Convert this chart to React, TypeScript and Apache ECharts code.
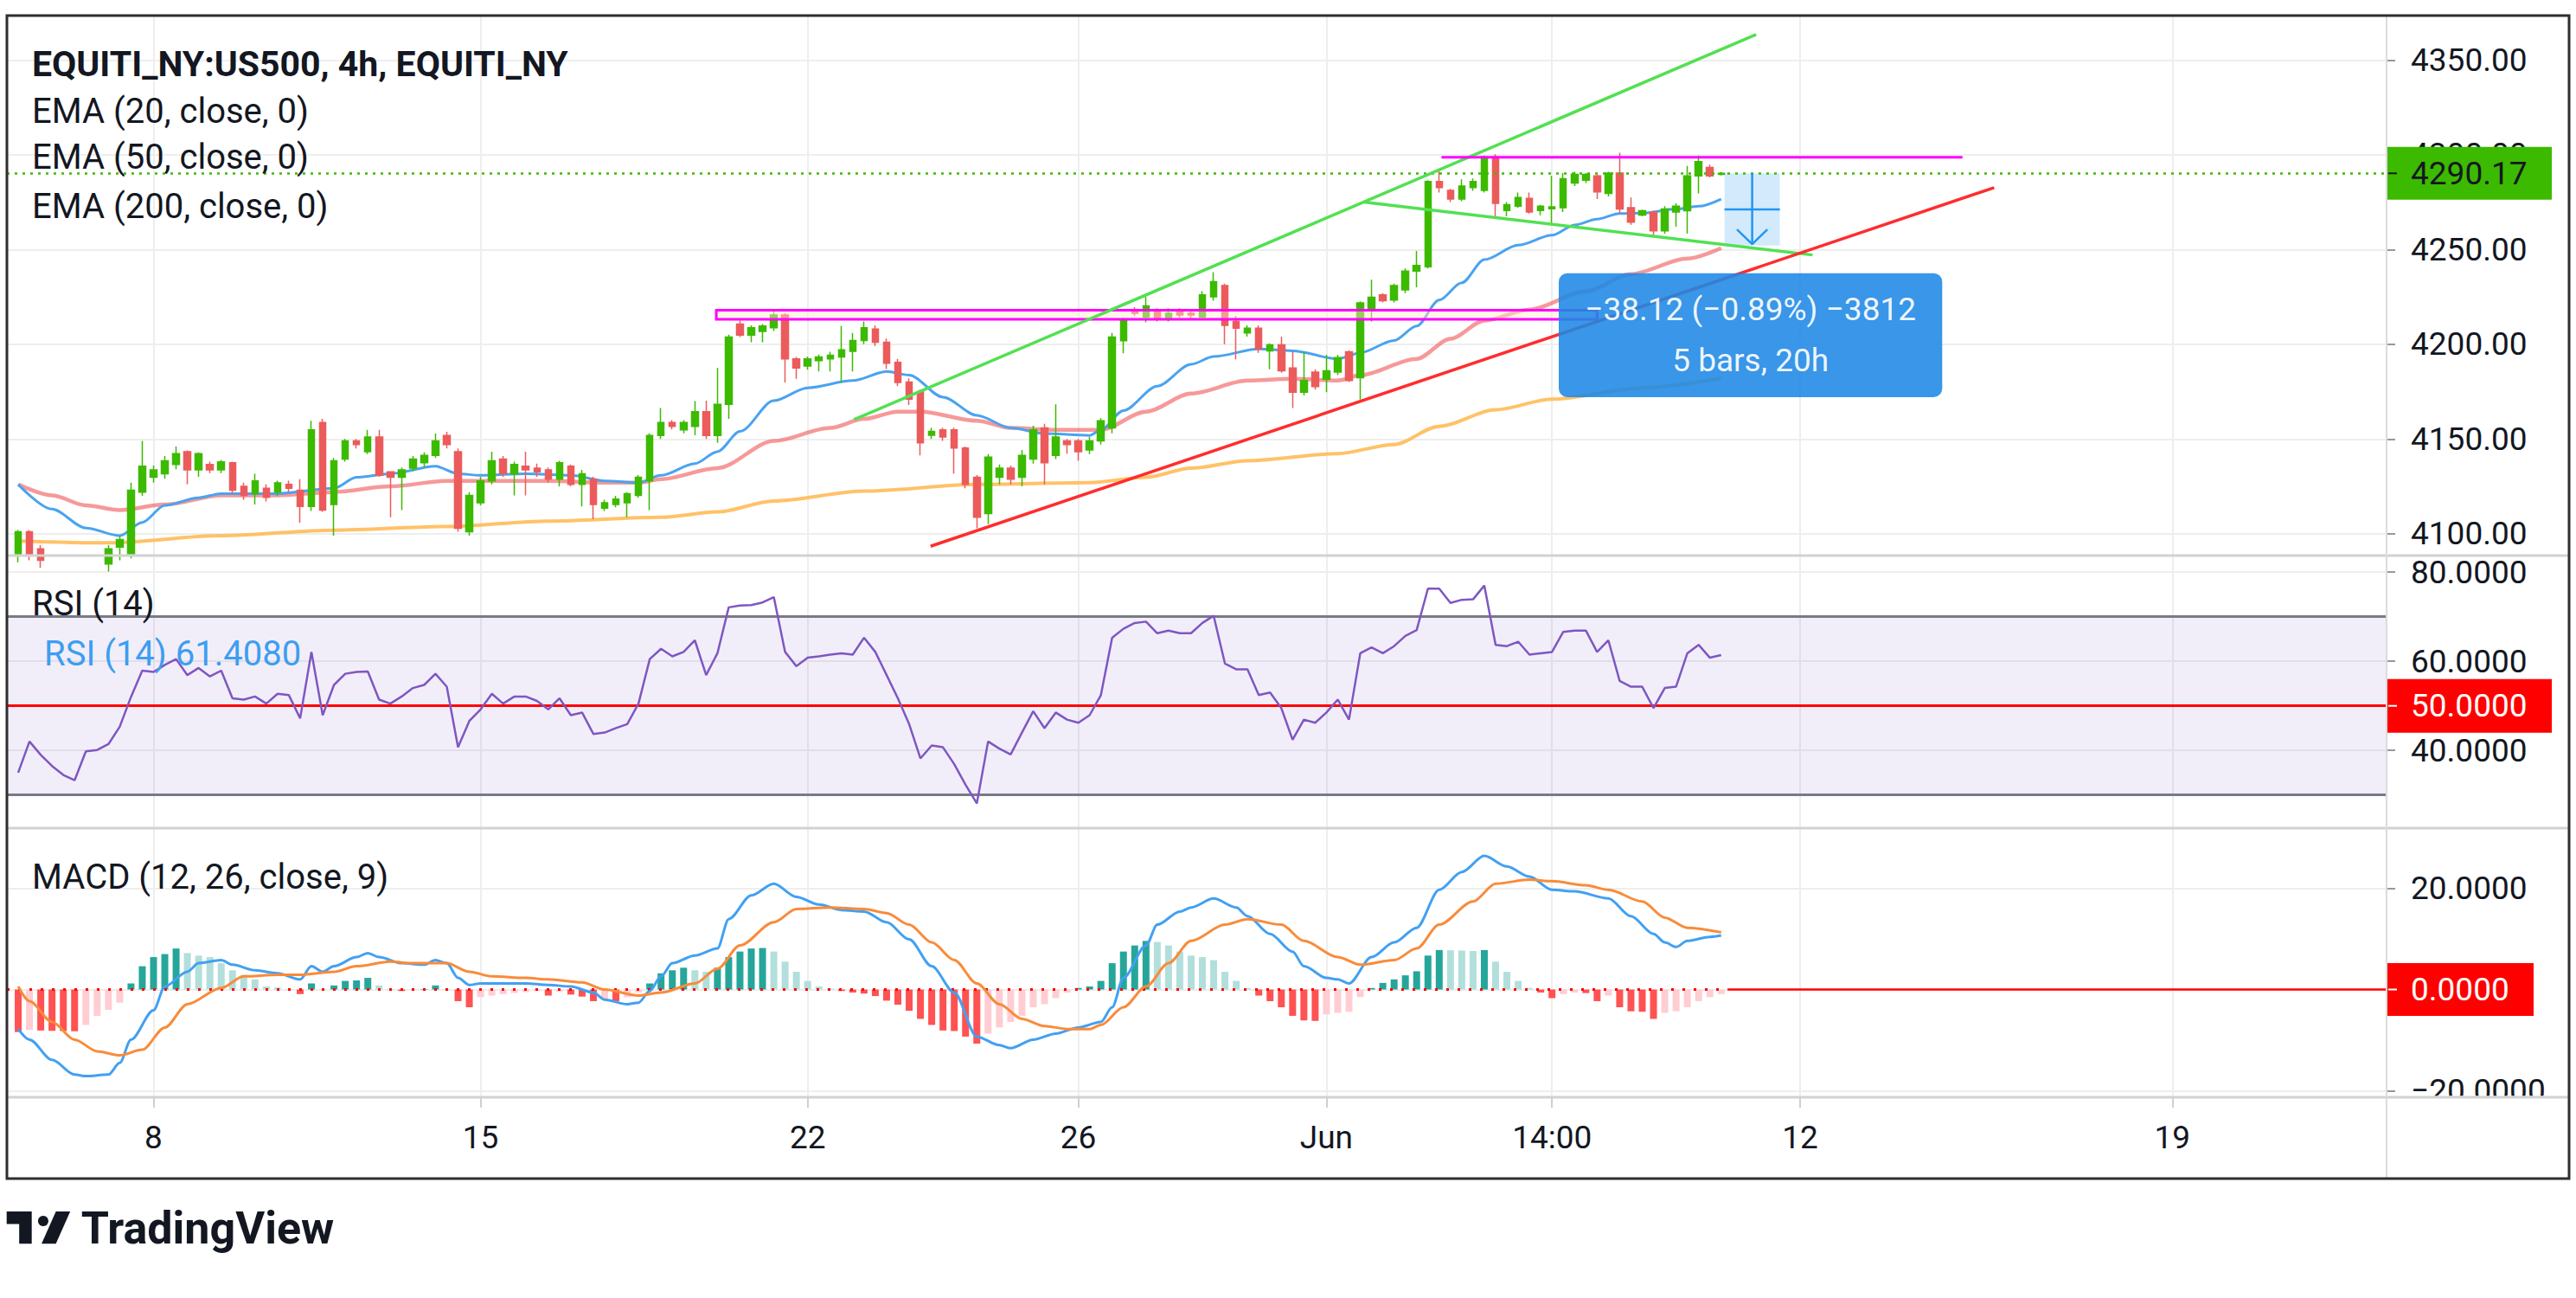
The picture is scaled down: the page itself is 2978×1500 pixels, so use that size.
import React, { useEffect, useRef } from 'react';
import * as echarts from 'echarts';

// ---------- axes ----------
const TICK_POS = [12, 41, 70, 94, 116, 136, 158, 191];
const TICK_LABELS = ['8', '15', '22', '26', 'Jun', '14:00', '12', '19'];
const X_RANGE = [-1, 210];
const PRICE_RANGE = [4088.5, 4373.4];
const PRICE_TICKS = [4100, 4150, 4200, 4250, 4300, 4350];
const RSI_RANGE = [22.56, 83.73];
const RSI_TICKS = [40, 60, 80];
const RSI_BAND = [30, 70];
const RSI_MID = 50;
const MACD_RANGE = [-21.28, 31.88];
const MACD_TICKS = [-20, 0, 20];
const MACD_LABEL_TICKS = [-20, 20];

// ---------- texts ----------
const TITLE = 'EQUITI_NY:US500, 4h, EQUITI_NY';
const EMA_LEGENDS = ['EMA (20, close, 0)', 'EMA (50, close, 0)', 'EMA (200, close, 0)'];
const RSI_TITLE = 'RSI (14)';
const MACD_TITLE = 'MACD (12, 26, close, 9)';
const BRAND = 'TradingView';

// ---------- candles (bar index 0..151) ----------
const OPEN = [
  4089.4, 4101, 4092, 4086, 4080, 4077, 4082, 4079, 4084, 4093,
  4089.4, 4122, 4129.8, 4131.7, 4136.5, 4143.3, 4133.7, 4136.5, 4133.7, 4137.5,
  4125, 4121.2, 4124, 4122, 4126, 4123, 4114.4, 4158.7, 4115.4, 4139.4,
  4149, 4143.3, 4151, 4132.7, 4129.8, 4134.6, 4137.5, 4141.3, 4151.9, 4143.3,
  4101, 4116.3, 4127.9, 4139.4, 4131.7, 4135.6, 4134.6, 4133.7, 4128.8, 4135.6,
  4126, 4128.8, 4113.5, 4115.4, 4116.3, 4120.2, 4127.9, 4151.9, 4158.7, 4154.8,
  4156.7, 4164.4, 4151.9, 4168.3, 4210.6, 4204.8, 4206.7, 4208.7, 4215.4, 4192.3,
  4188.5, 4191.3, 4192.3, 4193.3, 4196.2, 4202, 4208, 4201, 4190.4, 4180,
  4175, 4152, 4154.8, 4154.8, 4145.2, 4129.8, 4110.6, 4129.8, 4134.6, 4129.8,
  4139.4, 4155.8, 4141.3, 4149, 4149, 4144.2, 4149, 4155.8, 4201.9, 4218.3,
  4214.4, 4218.3, 4213.5, 4218, 4216.3, 4214.4, 4225, 4231, 4212, 4206,
  4208.5, 4196.5, 4199.7, 4187.5, 4174.7, 4185.3, 4181.5, 4185.3, 4196, 4182.3,
  4218.8, 4226, 4223.3, 4228.7, 4238.6, 4240.9, 4285.8, 4281.2, 4276.6, 4282.7,
  4281.2, 4298.8, 4270.6, 4272.8, 4276.9, 4270.6, 4271.5, 4272, 4285, 4286.5,
  4288.8, 4279.6, 4290.3, 4272, 4268.2, 4269.7, 4259.8, 4269.8, 4270.5, 4288.8,
  4293.3, 4289.6,
];
const CLOSE = [
  4101, 4089.4, 4086, 4080, 4077, 4082, 4079, 4084, 4092, 4097,
  4123, 4135.6, 4133.7, 4138.5, 4142.3, 4133.7, 4142.3, 4133.7, 4137.9, 4123,
  4120.2, 4127.9, 4119.2, 4126.9, 4124, 4114.4, 4154.8, 4112.5, 4138.5, 4149,
  4147.1, 4151, 4130.8, 4129.8, 4133.7, 4139.4, 4141.3, 4149, 4147.1, 4102.9,
  4120.2, 4127.9, 4138.5, 4131.7, 4136.5, 4133.7, 4132.7, 4128.8, 4137.5, 4126,
  4131.7, 4115.4, 4116.3, 4118.3, 4121.2, 4129.8, 4151.9, 4158.7, 4156.7, 4158.7,
  4164.4, 4151.9, 4168.3, 4203.8, 4204.8, 4208.7, 4209.6, 4215.4, 4192.3, 4187.5,
  4192.3, 4193.3, 4194.2, 4197.1, 4202, 4208.7, 4201, 4190, 4179.8, 4171,
  4148, 4154, 4151, 4145.2, 4126, 4108.7, 4140.4, 4134.6, 4128.8, 4141.3,
  4154.8, 4137.5, 4151, 4147.1, 4143.3, 4149, 4159.6, 4203.8, 4212.5, 4216.3,
  4220.2, 4213.5, 4216.3, 4215.4, 4215.4, 4226, 4233, 4210, 4208.5, 4208.5,
  4197.5, 4199.7, 4186, 4174.7, 4180.8, 4177.7, 4186, 4192.9, 4180.8, 4221.8,
  4224.8, 4223, 4230.9, 4238.6, 4241.6, 4285.8, 4282.7, 4276.6, 4283.5, 4285.8,
  4298.7, 4274.3, 4273.6, 4277.4, 4269.8, 4272.8, 4272.5, 4287.3, 4289.6, 4289.6,
  4280.4, 4290.3, 4271.3, 4264.4, 4270.5, 4259.8, 4271.3, 4272.8, 4288.8, 4296.4,
  4288.8, 4290.17,
];
const LOW = [
  4085, 4086, 4082, 4076, 4072, 4074, 4075, 4076, 4080, 4086,
  4087, 4120, 4127, 4129, 4134, 4126, 4130, 4132, 4132, 4121,
  4118, 4115.4, 4117, 4120, 4122, 4105.8, 4112, 4111.5, 4099, 4138,
  4145, 4142, 4130, 4108.7, 4112.5, 4133, 4135, 4140, 4145, 4101,
  4099, 4115, 4126, 4130, 4120.2, 4120.2, 4130, 4127, 4125, 4125,
  4114.4, 4107.7, 4112, 4114, 4108.7, 4119, 4112.5, 4150, 4155, 4153,
  4152, 4150, 4148, 4160.6, 4203.8, 4201, 4201, 4207, 4179.8, 4181.7,
  4186.5, 4185.6, 4185.6, 4179.8, 4185.6, 4200, 4199, 4187, 4177.9, 4168,
  4141.3, 4150, 4149, 4131.7, 4124, 4102.9, 4105, 4126, 4126, 4125,
  4137, 4126, 4139.4, 4142.3, 4138.5, 4142, 4147, 4153, 4195.2, 4215,
  4211.5, 4212, 4212, 4214, 4213, 4213, 4223, 4200, 4192, 4204,
  4195.5, 4186.8, 4185, 4166.3, 4173, 4176, 4174.7, 4183.7, 4180, 4170.8,
  4212, 4222, 4222, 4227, 4230, 4240, 4280, 4275, 4275.5, 4281,
  4280, 4267.5, 4267.5, 4272, 4269, 4268, 4263.7, 4269.8, 4283.5, 4285,
  4276.6, 4278, 4269, 4263, 4267.5, 4257.5, 4258.3, 4262, 4258.3, 4279.6,
  4288, 4289,
];
const HIGH = [
  4102, 4102, 4094, 4088, 4084, 4086, 4086, 4087, 4094, 4099,
  4127, 4149, 4136, 4141, 4146, 4144, 4143, 4138, 4139, 4138,
  4127, 4131.7, 4126, 4128, 4128, 4128.8, 4159.6, 4160.6, 4140, 4150,
  4150, 4154.8, 4154.8, 4133, 4135, 4141, 4143, 4152.9, 4153.8, 4145,
  4122, 4130, 4143.3, 4141, 4138, 4143.3, 4137, 4135, 4138.5, 4136.5,
  4133.7, 4130, 4118, 4120, 4122, 4131, 4153, 4166.3, 4160, 4160,
  4170, 4170.2, 4187.5, 4205, 4212.5, 4210, 4210.6, 4217.3, 4216.3, 4193.3,
  4193.5, 4194.5, 4196, 4209.6, 4206, 4212, 4210, 4203, 4192.3, 4182,
  4176, 4156, 4156, 4156, 4146, 4131, 4142, 4136.5, 4136, 4144.2,
  4157, 4158, 4168.3, 4150, 4150, 4151, 4161, 4206, 4214, 4219.5,
  4225, 4219, 4219, 4219, 4218, 4228, 4238, 4232, 4215, 4210,
  4210, 4200.5, 4204, 4196, 4196, 4186.8, 4194.4, 4194.4, 4196.7, 4222.6,
  4234, 4227, 4232, 4240, 4249.2, 4286.5, 4291.8, 4282, 4287, 4287.5,
  4299.5, 4300.2, 4275, 4280, 4280, 4273.5, 4288.8, 4290.3, 4291, 4290.3,
  4289.6, 4291, 4301, 4277.4, 4271, 4270.5, 4272.8, 4274.3, 4294.1, 4299.5,
  4294.8, 4290.8,
];

// ---------- moving averages ([bar, value]) ----------
const EMA20 = [
  [0, 4126], [3, 4113], [6, 4103], [9, 4099], [11, 4106], [13, 4115], [16, 4119], [18, 4121.2],
  [23, 4121.2], [28, 4124], [30, 4129.8], [33, 4131.7], [37, 4135.6], [39, 4131.7], [41, 4130.8],
  [45, 4131.7], [49, 4130.8], [52, 4127.9], [55, 4127], [57, 4130.8], [60, 4137], [62, 4143.3],
  [64, 4154], [67, 4170.2], [70, 4177], [74, 4180.8], [77, 4185.6], [79, 4183.7], [82, 4172.1],
  [85, 4162.5], [88, 4155.8], [91, 4152.9], [95, 4151.9], [96, 4154.8], [98, 4165], [101, 4177.9],
  [104, 4189.4], [106, 4193.5], [110, 4197.5], [113, 4196.5], [117, 4192.3], [119, 4195.5],
  [122, 4202], [124, 4209.6], [126, 4223.3], [128, 4232.4], [130, 4244.6], [133, 4252.3],
  [136, 4257.5], [138, 4262.9], [140, 4266], [142, 4269], [144, 4269.2], [147, 4271.3],
  [149, 4272.8], [151, 4276.6],
];
const EMA50 = [
  [0, 4126], [3, 4120.2], [6, 4115], [9, 4112.5], [13, 4115.4], [18, 4120.2], [23, 4120.2],
  [28, 4122], [33, 4125], [38, 4127.9], [42, 4127.9], [47, 4127.9], [52, 4127], [55, 4127],
  [57, 4128.8], [62, 4134.6], [67, 4149], [72, 4155.8], [75, 4160.6], [78, 4164.4], [80, 4164.4],
  [85, 4159.6], [88, 4155.8], [92, 4154.8], [96, 4154.8], [100, 4164.4], [104, 4174], [109, 4180.8],
  [113, 4181.7], [117, 4180.8], [119, 4183.7], [124, 4192.3], [127, 4202.9], [130, 4212.5],
  [134, 4218.3], [139, 4227.9], [143, 4237], [148, 4245.2], [151, 4250.7],
];
const EMA200 = [
  [0, 4096.2], [8, 4095.2], [18, 4099], [28, 4101.9], [38, 4103.8], [47, 4106.7], [57, 4108.7],
  [62, 4111.5], [67, 4117.3], [75, 4122.5], [85, 4126], [95, 4127], [100, 4129.8], [104, 4134.6],
  [109, 4138.5], [117, 4142.3], [122, 4147.1], [126, 4156.7], [131, 4165.4], [136, 4171],
  [144, 4177], [151, 4182],
];

// ---------- RSI (one value per bar) ----------
const RSI = [
  35, 42, 39, 36.5, 34.5, 33.3, 39.8, 40.1, 41.4, 45.3,
  52, 57.9, 57.6, 59.2, 60.5, 56.9, 58.5, 56.6, 57.9, 51.7,
  51.4, 52.1, 50.5, 52.7, 52.4, 47.2, 62.1, 47.9, 54.7, 57.2,
  57.6, 57.7, 51.4, 50.5, 52.1, 54, 54.7, 57.2, 54.3, 40.7,
  46.6, 49.2, 52.7, 50.5, 52.1, 52.1, 51.1, 49.2, 51.7, 47.9,
  48.5, 43.7, 44, 45, 45.9, 50.5, 60.5, 62.8, 61.1, 62.1,
  64.7, 56.9, 61.8, 72.1, 72.5, 72.6, 73.2, 74.4, 62.1, 58.9,
  60.8, 61.1, 61.5, 61.8, 61.5, 65.3, 62.1, 56.9, 51.7, 45.9,
  38.2, 41.1, 40.7, 36.9, 32.3, 28.1, 42, 40.4, 39.1, 44,
  48.8, 45, 48.5, 46.9, 46.2, 47.9, 52.4, 65.3, 67.3, 68.6,
  68.9, 66.3, 66.9, 66.3, 66.3, 68.6, 70.2, 59.5, 58.2, 58.2,
  52.4, 53, 49.5, 42.4, 46.9, 46.2, 48.5, 51.4, 46.9, 61.8,
  63.1, 61.8, 63.4, 65.7, 67, 76.3, 76.3, 73.1, 73.8, 73.9,
  77, 63.7, 63.4, 64.4, 61.5, 61.8, 62.1, 66.6, 66.9, 66.9,
  62.1, 64.7, 55.6, 54.3, 54.3, 49.5, 54, 54.3, 61.8, 63.7,
  60.8, 61.408,
];

// ---------- MACD ----------
const MACD = [
  [0, -7.8], [1, -9.9], [3, -13.9], [5, -16.8], [6, -17.1], [8, -16.8], [9, -14.5], [10, -9.9],
  [12, -4.1], [13, 0.6], [15, 3.5], [16, 5.2], [18, 5.8], [19, 4.9], [21, 3.8], [23, 3.2], [25, 2],
  [26, 4.6], [27, 3.5], [28, 4.6], [30, 6.4], [31, 7.2], [32, 6.4], [34, 5.2], [36, 4.9], [37, 5.8],
  [38, 5.2], [39, 2.3], [40, 0.9], [41, 1.2], [45, 1.2], [47, 0.9], [49, 0.6], [51, -0.6], [52, -2],
  [54, -2.9], [55, -2.6], [56, -0.3], [57, 2.6], [58, 5.2], [60, 6.7], [62, 8.1], [63, 13.9],
  [65, 18.6], [67, 20.9], [69, 18.3], [71, 16.8], [73, 15.7], [75, 15.4], [77, 13.3], [79, 9.9],
  [81, 4.6], [83, -0.6], [85, -9.3], [87, -11], [88, -11.6], [90, -9.9], [92, -8.7], [94, -7.5],
  [96, -6.4], [97, -3.5], [98, 2.3], [100, 8.7], [101, 12.8], [103, 15.4], [104, 16.2], [106, 18],
  [108, 16.2], [109, 14.5], [111, 11], [113, 7.5], [114, 4.6], [116, 2.3], [117, 2], [118, 1.2],
  [120, 6.4], [122, 9.3], [124, 12.2], [126, 19.7], [128, 23.2], [130, 26.4], [132, 24.3],
  [134, 22.3], [136, 19.7], [138, 19.4], [141, 18], [143, 14.5], [145, 11], [146, 9.3], [147, 8.4],
  [148, 9.6], [150, 10.4], [151, 10.7],
];
const SIGNAL = [
  [0, 0.6], [1, -2.3], [3, -6.4], [5, -9.9], [7, -12.2], [9, -13], [11, -11.9], [13, -7.5],
  [15, -2.9], [18, 0.3], [20, 2.6], [23, 2.9], [25, 2.9], [28, 3.5], [30, 4.6], [33, 5.5],
  [35, 5.2], [38, 5.2], [40, 3.5], [42, 2.6], [45, 2.3], [47, 2], [50, 1.4], [52, 0], [55, -1.2],
  [57, -0.6], [60, 1.2], [62, 4.1], [64, 8.7], [67, 13.3], [69, 15.9], [72, 16.2], [75, 15.9],
  [77, 15.1], [79, 12.8], [81, 9.3], [83, 5.8], [85, 1.2], [87, -2.9], [89, -5.8], [91, -7.2],
  [93, -7.8], [95, -7.8], [96, -7], [98, -3.5], [100, 0.6], [102, 5.2], [104, 9.6], [107, 12.8],
  [109, 13.9], [112, 12.8], [114, 9.6], [117, 6.4], [119, 4.9], [122, 5.8], [124, 8.1], [126, 12.8],
  [129, 17.4], [131, 20.9], [134, 21.7], [136, 21.4], [139, 20.6], [141, 19.7], [144, 17.4],
  [146, 14.2], [148, 12.2], [151, 11.3],
];
const HIST = [
  -8.4, -8.0, -8.1, -8.15, -8.2, -8.25, -7.0, -5.2, -4.0, -2.6,
  1.2, 4.6, 6.4, 7.0, 8.1, 7.2, 6.7, 6.4, 5.2, 3.8,
  2.9, 2.0, 0.6, 0.4, 0.1, -0.9, 1.2, 0.1, 0.8, 1.7,
  1.8, 2.3, 0.8, 0.1, -0.3, -0.1, 0.1, 0.8, 0.1, -2.3,
  -3.5, -1.5, -1.2, -0.9, -0.7, -0.5, -0.3, -1.2, -0.4, -1.0,
  -1.4, -2.3, -2.0, -2.3, -1.5, -0.6, 1.2, 3.2, 3.8, 4.3,
  3.8, 3.5, 4.3, 6.4, 7.5, 8.1, 8.2, 7.5, 5.5, 3.5,
  1.7, 0.6, 0.2, -0.3, -0.6, -0.8, -1.3, -2.2, -3.0, -4.2,
  -5.8, -7.0, -8.1, -8.2, -9.3, -10.7, -8.7, -7.5, -6.4, -5.2,
  -3.5, -2.9, -1.7, -0.6, 0.3, 0.6, 1.7, 5.2, 7.5, 8.7,
  9.6, 9.4, 8.7, 7.5, 6.7, 6.4, 5.8, 3.5, 1.7, 0.3,
  -1.2, -2.3, -3.5, -5.2, -6.1, -6.2, -4.9, -4.6, -4.4, -1.5,
  0.3, 1.3, 2.0, 2.8, 3.6, 6.7, 7.8, 7.75, 7.7, 7.6,
  7.8, 5.5, 3.5, 1.7, 0.3, -0.6, -1.7, -0.9, -0.6, -0.7,
  -2.3, -1.2, -3.5, -4.3, -4.4, -5.8, -4.6, -4.3, -3.5, -2.3,
  -1.5, -0.9,
];

// ---------- drawings ([bar, price]) ----------
const TREND_GREEN_UP = [[74.1, 4160.2], [154.1, 4363.4]];
const TREND_GREEN_DOWN = [[119.3, 4275], [159.1, 4247.1]];
const TREND_RED = [[80.9, 4093.4], [175.2, 4282.6]];
const RESIST_TOP = [[126.2, 4298.6], [172.4, 4298.6]];
const ZONE = [[61.9, 4217.9], [140, 4213.1]];
const MEASURE = { x1: 151.3, x2: 156.2, bars: 5, hours: 20, delta: -38.12 };
const MEASURE_TIP = { x1: 136.6, x2: 170.6, top: 4237.5, bottom: 4172.1 };

// ---------- style ----------
const FONT = 'Roboto';
const TEXT = '#131722';
const UP = '#3cba00';
const DOWN = '#ec5b5b';
const GRID_C = '#eeeeee';
const PANES = [
  { top: 18, bottom: 642 },
  { top: 642, bottom: 957 },
  { top: 957, bottom: 1268 },
];
const LEFT = 8;
const AXIS_X = 2759;
const FRAME = { x: 8, y: 18, right: 2970, bottom: 1362 };

const LAST_BAR = CLOSE.length - 1;
const LAST_PRICE = CLOSE[LAST_BAR];

function signed(v: number, d: number) {
  const s = Math.abs(v).toFixed(d);
  return v < 0 ? '\u2212' + s : s;
}

function histColor(i: number) {
  const h = HIST[i];
  const prev = i > 0 ? HIST[i - 1] : 0;
  if (h >= 0) return h >= prev ? '#26a69a' : '#b2dfdb';
  return h < prev ? '#ff5252' : '#ffcdd2';
}

function buildOption(): any {
  const measFrom = LAST_PRICE;
  const measTo = LAST_PRICE + MEASURE.delta;
  const measMid = (measFrom + measTo) / 2;
  const measCx = (MEASURE.x1 + MEASURE.x2) / 2;

  const xAxis = [0, 1, 2].map((g) => ({
    type: 'value',
    gridIndex: g,
    min: X_RANGE[0],
    max: X_RANGE[1],
    axisLine: { show: false, onZero: false },
    splitLine: { show: false },
    axisTick:
      g === 2
        ? { show: true, customValues: TICK_POS, length: 12, lineStyle: { color: '#cfcfcf', width: 2 } }
        : { show: false },
    axisLabel:
      g === 2
        ? {
            show: true,
            customValues: TICK_POS,
            formatter: (v: any) => {
              const k = TICK_POS.indexOf(Number(v));
              return k >= 0 ? TICK_LABELS[k] : '';
            },
            fontSize: 37,
            fontFamily: FONT,
            color: TEXT,
            margin: 28,
          }
        : { show: false },
  }));

  const yAxisOf = (g: number, range: number[], ticks: number[], labels: number[], interval: number, fmt: (v: number) => string) => ({
    type: 'value',
    gridIndex: g,
    position: 'right',
    min: range[0],
    max: range[1],
    minInterval: interval,
    maxInterval: interval,
    axisLine: { show: false, onZero: false },
    axisTick: { show: true, customValues: ticks, length: 10, lineStyle: { color: '#9598a1', width: 2 } },
    axisLabel: {
      customValues: labels,
      showMinLabel: true,
      showMaxLabel: true,
      formatter: (v: any) => (labels.indexOf(Number(v)) >= 0 ? fmt(Number(v)) : ''),
      fontSize: 37,
      fontFamily: FONT,
      color: TEXT,
      margin: 28,
      align: 'left',
    },
    splitLine: { show: true, lineStyle: { color: GRID_C, width: 2 } },
  });

  const yAxis = [
    yAxisOf(0, PRICE_RANGE, PRICE_TICKS, PRICE_TICKS, 50, (v) => v.toFixed(2)),
    yAxisOf(1, RSI_RANGE, RSI_TICKS, RSI_TICKS, 20, (v) => v.toFixed(4)),
    yAxisOf(2, MACD_RANGE, MACD_TICKS, MACD_LABEL_TICKS, 20, (v) => signed(v, 4)),
  ];

  const noSym = ['none', 'none'];
  const series: any[] = [];

  // vertical grid lines in each pane
  [0, 1, 2].forEach((g) =>
    series.push({
      type: 'line',
      xAxisIndex: g,
      yAxisIndex: g,
      data: [],
      silent: true,
      z: 0,
      markLine: {
        silent: true,
        z: 0,
        symbol: noSym,
        label: { show: false },
        lineStyle: { color: GRID_C, width: 2, type: 'solid' },
        data: TICK_POS.map((v) => ({ xAxis: v })),
      },
    })
  );

  const line = (g: number, data: any[], color: string, width: number, z: number, smooth: number | boolean = false) => ({
    type: 'line',
    xAxisIndex: g,
    yAxisIndex: g,
    data,
    symbol: 'none',
    showSymbol: false,
    silent: true,
    smooth,
    smoothMonotone: 'x',
    z,
    lineStyle: { color, width },
  });

  // EMAs
  series.push(line(0, EMA200, 'rgba(255,183,77,0.85)', 4, 2, 0.3));
  series.push(line(0, EMA50, 'rgba(240,85,85,0.6)', 4.5, 2, 0.3));
  series.push(line(0, EMA20, '#4aa3f0', 3, 2, 0.3));

  // candles
  series.push({
    type: 'candlestick',
    xAxisIndex: 0,
    yAxisIndex: 0,
    z: 3,
    barWidth: 8,
    silent: true,
    data: OPEN.map((o, i) => [i, o, CLOSE[i], LOW[i], HIGH[i]]),
    itemStyle: { color: UP, color0: DOWN, borderColor: UP, borderColor0: DOWN, borderWidth: 1.5 },
  });

  // zone + measurement area + current price line
  series.push({
    type: 'line',
    xAxisIndex: 0,
    yAxisIndex: 0,
    data: [],
    silent: true,
    z: 4,
    markArea: {
      silent: true,
      z: 4,
      data: [
        [
          { coord: ZONE[0], itemStyle: { color: 'rgba(255,238,200,0.45)', borderColor: '#ff00ff', borderWidth: 3 } },
          { coord: ZONE[1] },
        ],
        [
          { coord: [MEASURE.x1, measFrom], itemStyle: { color: 'rgba(33,150,243,0.2)', borderWidth: 0 } },
          { coord: [MEASURE.x2, measTo] },
        ],
      ],
    },
    markLine: {
      silent: true,
      z: 5,
      symbol: noSym,
      label: { show: false },
      data: [{ yAxis: LAST_PRICE, lineStyle: { color: UP, width: 2.5, type: [3, 6] } }],
    },
  });

  // trend lines
  series.push(line(0, TREND_GREEN_UP, '#52e052', 3.5, 5));
  series.push(line(0, TREND_GREEN_DOWN, '#52e052', 3.5, 5));
  series.push(line(0, TREND_RED, '#ff2d2d', 3.5, 5));
  series.push(line(0, RESIST_TOP, '#ff00ff', 3, 5));

  // measurement arrow
  series.push(line(0, [[measCx, measFrom], [measCx, measTo + 0.6]], '#2196f3', 2.5, 6));
  series.push(line(0, [[MEASURE.x1, measMid], [MEASURE.x2, measMid]], '#2196f3', 2.5, 6));
  series.push(line(0, [[measCx - 1.35, measTo + 8.5], [measCx, measTo + 0.8], [measCx + 1.35, measTo + 8.5]], '#2196f3', 2.5, 6));

  // RSI pane
  series.push({
    type: 'line',
    xAxisIndex: 1,
    yAxisIndex: 1,
    data: [],
    silent: true,
    z: 1,
    markArea: {
      silent: true,
      z: 1,
      itemStyle: { color: 'rgba(126,87,194,0.1)' },
      data: [[{ yAxis: RSI_BAND[0] }, { yAxis: RSI_BAND[1] }]],
    },
    markLine: {
      silent: true,
      z: 2,
      symbol: noSym,
      label: { show: false },
      data: [
        { yAxis: RSI_BAND[1], lineStyle: { color: '#787b86', width: 3, type: 'solid' } },
        { yAxis: RSI_BAND[0], lineStyle: { color: '#787b86', width: 3, type: 'solid' } },
        { yAxis: RSI_MID, lineStyle: { color: '#ff0000', width: 3, type: 'solid' } },
      ],
    },
  });
  series.push(line(1, RSI.map((v, i) => [i, v]), '#7e57c2', 2.5, 3));

  // MACD pane
  series.push({
    type: 'bar',
    xAxisIndex: 2,
    yAxisIndex: 2,
    barWidth: 8,
    silent: true,
    z: 2,
    data: HIST.map((v, i) => ({ value: [i, v], itemStyle: { color: histColor(i) } })),
  });
  series.push({
    type: 'line',
    xAxisIndex: 2,
    yAxisIndex: 2,
    data: [],
    silent: true,
    z: 3,
    markLine: {
      silent: true,
      z: 3,
      symbol: noSym,
      label: { show: false },
      data: [
        [
          { coord: [X_RANGE[0], 0], lineStyle: { color: '#ff0000', width: 3, type: [3, 10] } },
          { coord: [LAST_BAR + 0.6, 0] },
        ],
        [
          { coord: [LAST_BAR + 0.6, 0], lineStyle: { color: '#ff0000', width: 2.5, type: 'solid' } },
          { coord: [X_RANGE[1], 0] },
        ],
      ],
    },
  });
  series.push(line(2, MACD, '#42a0f2', 3, 4, 0.3));
  series.push(line(2, SIGNAL, '#f98b3a', 3, 4, 0.3));

  return {
    animation: false,
    backgroundColor: '#ffffff',
    grid: PANES.map((p) => ({ left: LEFT, width: AXIS_X - LEFT, top: p.top, height: p.bottom - p.top })),
    xAxis,
    yAxis,
    series,
  };
}

function buildGraphics(chart: any): any[] {
  const Z = 50;
  const els: any[] = [];
  const text = (t: string, x: number, y: number, size: number, fill: string, weight: any = 'normal', align = 'left', z = Z) => ({
    type: 'text',
    z,
    silent: true,
    style: {
      text: t, x, y, fill, fontSize: size, fontFamily: FONT, fontWeight: weight,
      align, verticalAlign: 'middle', textAlign: align, textVerticalAlign: 'middle',
    },
  });
  const seg = (x1: number, y1: number, x2: number, y2: number, stroke: string, w: number, z = Z) => ({
    type: 'line', z, silent: true, shape: { x1, y1, x2, y2 }, style: { stroke, lineWidth: w },
  });
  const box = (x: number, y: number, w: number, h: number, fill: string, r = 0, z = Z) => ({
    type: 'rect', z, silent: true, shape: { x, y, width: w, height: h, r }, style: { fill },
  });

  // legends
  els.push(text(TITLE, 37, 74, 41, TEXT, 'bold'));
  els.push(text(EMA_LEGENDS[0], 37, 128, 40, TEXT));
  els.push(text(EMA_LEGENDS[1], 37, 181, 40, TEXT));
  els.push(text(EMA_LEGENDS[2], 37, 238, 40, TEXT));
  els.push(text(RSI_TITLE, 37, 697, 40, TEXT));
  els.push(text(RSI_TITLE + ' ' + RSI[RSI.length - 1].toFixed(4), 51, 755, 40, '#3d9ef0'));
  els.push(text(MACD_TITLE, 37, 1013, 40, TEXT));

  // measurement tooltip
  const p1 = chart.convertToPixel({ gridIndex: 0 }, [MEASURE_TIP.x1, MEASURE_TIP.top]);
  const p2 = chart.convertToPixel({ gridIndex: 0 }, [MEASURE_TIP.x2, MEASURE_TIP.bottom]);
  const tw = p2[0] - p1[0];
  const th = p2[1] - p1[1];
  els.push(box(p1[0], p1[1], tw, th, 'rgba(30,136,229,0.88)', 10));
  const pct = (MEASURE.delta / LAST_PRICE) * 100;
  const line1 = `${signed(MEASURE.delta, 2)} (${signed(pct, 2)}%) ${signed(Math.round(MEASURE.delta * 100), 0)}`;
  const line2 = `${MEASURE.bars} bars, ${MEASURE.hours}h`;
  els.push(text(line1, p1[0] + tw / 2, p1[1] + th * 0.29, 37, 'rgba(255,255,255,0.93)', 'normal', 'center'));
  els.push(text(line2, p1[0] + tw / 2, p1[1] + th * 0.705, 37, 'rgba(255,255,255,0.93)', 'normal', 'center'));

  // axis value boxes
  const lastY = chart.convertToPixel({ yAxisIndex: 0 }, LAST_PRICE);
  els.push(box(AXIS_X, lastY - 30.5, 191, 61, UP));
  els.push(seg(AXIS_X + 2, lastY, AXIS_X + 12, lastY, TEXT, 2, Z + 1));
  els.push(text(LAST_PRICE.toFixed(2), AXIS_X + 28, lastY, 37, TEXT, 'normal', 'left', Z + 1));

  const rsiY = chart.convertToPixel({ yAxisIndex: 1 }, RSI_MID);
  els.push(box(AXIS_X, rsiY - 31, 191, 62, '#ff0000'));
  els.push(seg(AXIS_X + 2, rsiY, AXIS_X + 12, rsiY, '#ffffff', 2, Z + 1));
  els.push(text(RSI_MID.toFixed(4), AXIS_X + 28, rsiY, 37, '#ffffff', 'normal', 'left', Z + 1));

  const macdY = chart.convertToPixel({ yAxisIndex: 2 }, 0);
  els.push(box(AXIS_X, macdY - 30.5, 170, 61, '#ff0000'));
  els.push(seg(AXIS_X + 2, macdY, AXIS_X + 12, macdY, '#ffffff', 2, Z + 1));
  els.push(text((0).toFixed(4), AXIS_X + 28, macdY, 37, '#ffffff', 'normal', 'left', Z + 1));

  // clip the lowest MACD axis label at the pane border
  els.push(box(AXIS_X + 1.5, PANES[2].bottom - 1.5, FRAME.right - AXIS_X - 3, 30, '#ffffff', 0, Z + 2));

  // pane separators, axis separator and frame
  els.push(seg(FRAME.x, PANES[0].bottom, FRAME.right, PANES[0].bottom, '#d2d2d2', 3, Z + 3));
  els.push(seg(FRAME.x, PANES[1].bottom, FRAME.right, PANES[1].bottom, '#d2d2d2', 3, Z + 3));
  els.push(seg(FRAME.x, PANES[2].bottom, FRAME.right, PANES[2].bottom, '#d2d2d2', 3, Z + 3));
  els.push(seg(AXIS_X, FRAME.y, AXIS_X, FRAME.bottom, '#dcdcdc', 2, Z + 3));
  els.push({
    type: 'rect', z: Z + 4, silent: true,
    shape: { x: FRAME.x, y: FRAME.y, width: FRAME.right - FRAME.x, height: FRAME.bottom - FRAME.y },
    style: { fill: 'none', stroke: '#2e2e2e', lineWidth: 3 },
  });

  // TradingView logo
  const L = { x: 7.7, y: 1391.7, s: 2.07 };
  const mp = (pts: number[][]) => pts.map(([a, b]) => [L.x + a * L.s, L.y + b * L.s]);
  els.push({ type: 'polygon', z: Z, silent: true, shape: { points: mp([[0, 4], [14, 4], [14, 22], [7, 22], [7, 11], [0, 11]]) }, style: { fill: TEXT } });
  els.push({ type: 'circle', z: Z, silent: true, shape: { cx: L.x + 20.4 * L.s, cy: L.y + 9.3 * L.s, r: 2.9 * L.s }, style: { fill: TEXT } });
  els.push({ type: 'polygon', z: Z, silent: true, shape: { points: mp([[19.5, 22], [27.5, 4], [35.5, 4], [27.5, 22]]) }, style: { fill: TEXT } });
  els.push(text(BRAND, 93.8, 1419, 52, TEXT, 'bold'));

  return els;
}

export default function App() {
  const ref = useRef<HTMLDivElement>(null);
  useEffect(() => {
    if (!ref.current) return;
    const chart = echarts.init(ref.current, null, { renderer: 'svg' });
    chart.setOption(buildOption());
    chart.setOption({ graphic: { elements: buildGraphics(chart) } });
    return () => chart.dispose();
  }, []);
  return (
    <div
      ref={ref}
      style={{ position: 'fixed', left: 0, top: 0, width: 2978, height: 1500, background: '#ffffff' }}
    />
  );
}
